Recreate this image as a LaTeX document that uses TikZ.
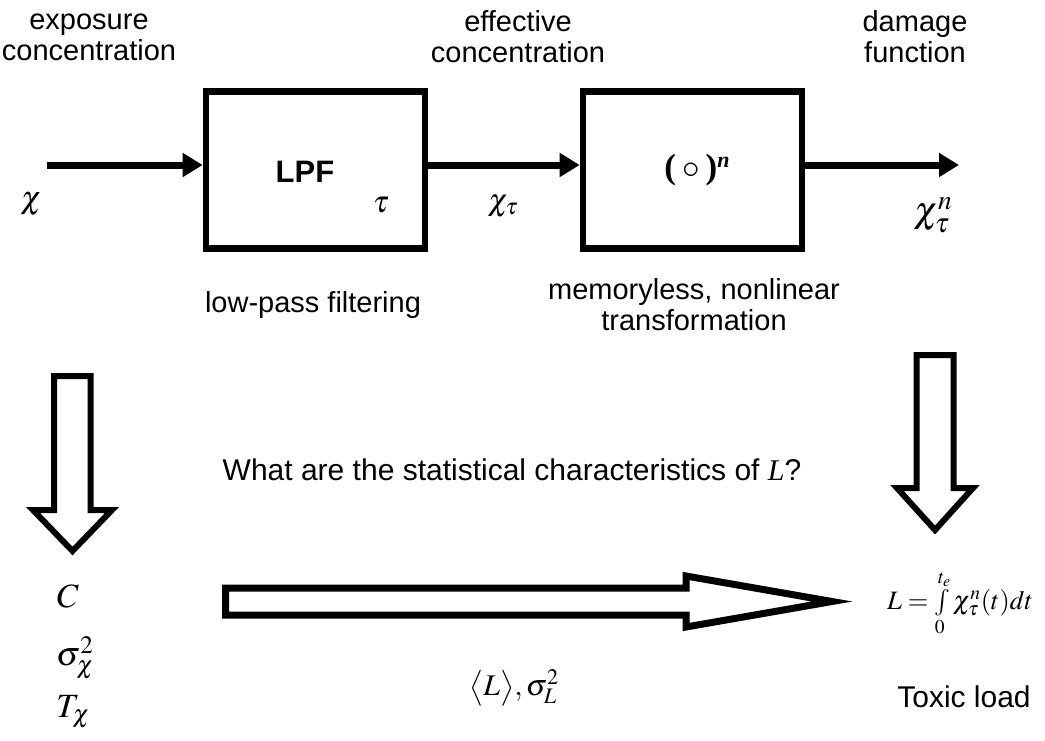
\documentclass[tikz,border=0pt]{standalone}
\usepackage{mathptmx}
\usepackage{fontspec}
\setmainfont{Liberation Sans}
\newfontfamily\seriffont{Liberation Serif}
\usetikzlibrary{arrows.meta}
\tikzset{
  lbl/.style={font=\fontsize{29}{31}\selectfont, align=center, inner sep=0},
  mth/.style={font=\fontsize{34}{38}\selectfont, inner sep=0},
  blk/.style={draw, line width=6.7pt, minimum width=219pt, minimum height=157pt, inner sep=0},
  flow/.style={line width=7pt, -{Triangle[length=20pt,width=23pt]}},
  barrow/.style={draw, line width=6pt, line join=miter, fill=white}
}
\begin{document}
\begin{tikzpicture}[x=1pt,y=-1pt]
\useasboundingbox (0,0) rectangle (1045,740);
% top labels
\node[lbl] (lexp) at (89,37) {exposure\\concentration};
\node[lbl] (leff) at (518,37) {effective\\concentration};
\node[lbl] (ldam) at (915,37) {damage\\function};
% blocks
\node[blk] (lpf) at (315.5,170) {};
\node[blk] (pow) at (692.5,170) {};
\node[font=\fontsize{31}{34}\selectfont\bfseries, inner sep=0] (lpft) at (305,172) {LPF};
\node[inner sep=0, font=\fontsize{31}{34}\selectfont] (tau) at (381,205) {$\tau$};
\node[inner sep=0, font=\fontsize{35}{38}\selectfont] (powt) at (697,170) {{\seriffont\bfseries(\hspace{6pt}}$\circ${\seriffont\bfseries\hspace{6pt})}\raisebox{11pt}{\fontsize{22}{24}\selectfont\seriffont\bfseries\itshape n}};
% flow arrows
\coordinate (in) at (47,165);
\coordinate (out) at (959,165);
\draw[flow] (in) -- (in -| lpf.west);
\draw[flow] (in -| lpf.east) -- (in -| pow.west);
\draw[flow] (in -| pow.east) -- (out);
% signal labels
\node[inner sep=0, font=\fontsize{32}{36}\selectfont] (chi) at (31,204) {$\chi$};
\node[inner sep=0, font=\fontsize{31}{34}\selectfont] (chitau) at (503,206) {$\chi_{\tau}$};
\node[inner sep=0, font=\fontsize{37}{40}\selectfont] (chitaun) at (933,215) {$\chi_{\tau}^{n}$};
% block captions
\node[lbl] (lowpass) at (313,305) {low-pass filtering};
\node[lbl] (memless) at (694,305) {memoryless, nonlinear\\transformation};
% question
\node[lbl, font=\fontsize{30}{33}\selectfont] (quest) at (512,470) {What are the statistical characteristics of {\seriffont\itshape L}?};
% block arrows
\draw[barrow] (54,376) -- (90.5,376) -- (90.5,510) -- (112,510) -- (72.5,551) -- (33,510) -- (54,510) -- cycle;
\draw[barrow] (916.5,355) -- (953.5,355) -- (953.5,488) -- (973,488) -- (935,530) -- (897,488) -- (916.5,488) -- cycle;
\draw[barrow, line width=7pt] (225.5,588) -- (686,588) -- (686,576) -- (832,601.5) -- (686,627) -- (686,615) -- (225.5,615) -- cycle;
% parameters
\node[mth] (pc) at (68,596) {$C$};
\node[mth] (psig) at (75,658) {$\sigma_{\chi}^{2}$};
\node[mth] (pT) at (73,712) {$T_{\chi}$};
% result
\node[inner sep=0, font=\fontsize{26.5}{30}\selectfont] (load) at (960,603) {$L=\int\limits_{0}^{t_e}\chi_{\tau}^{n}(t)dt$};
\node[lbl, font=\fontsize{30}{33}\selectfont] (toxic) at (964,697) {Toxic load};
\node[inner sep=0, font=\fontsize{30}{34}\selectfont] (stats) at (514,688) {$\bigl\langle L\bigr\rangle,\sigma_{L}^{2}$};
\end{tikzpicture}
\end{document}
